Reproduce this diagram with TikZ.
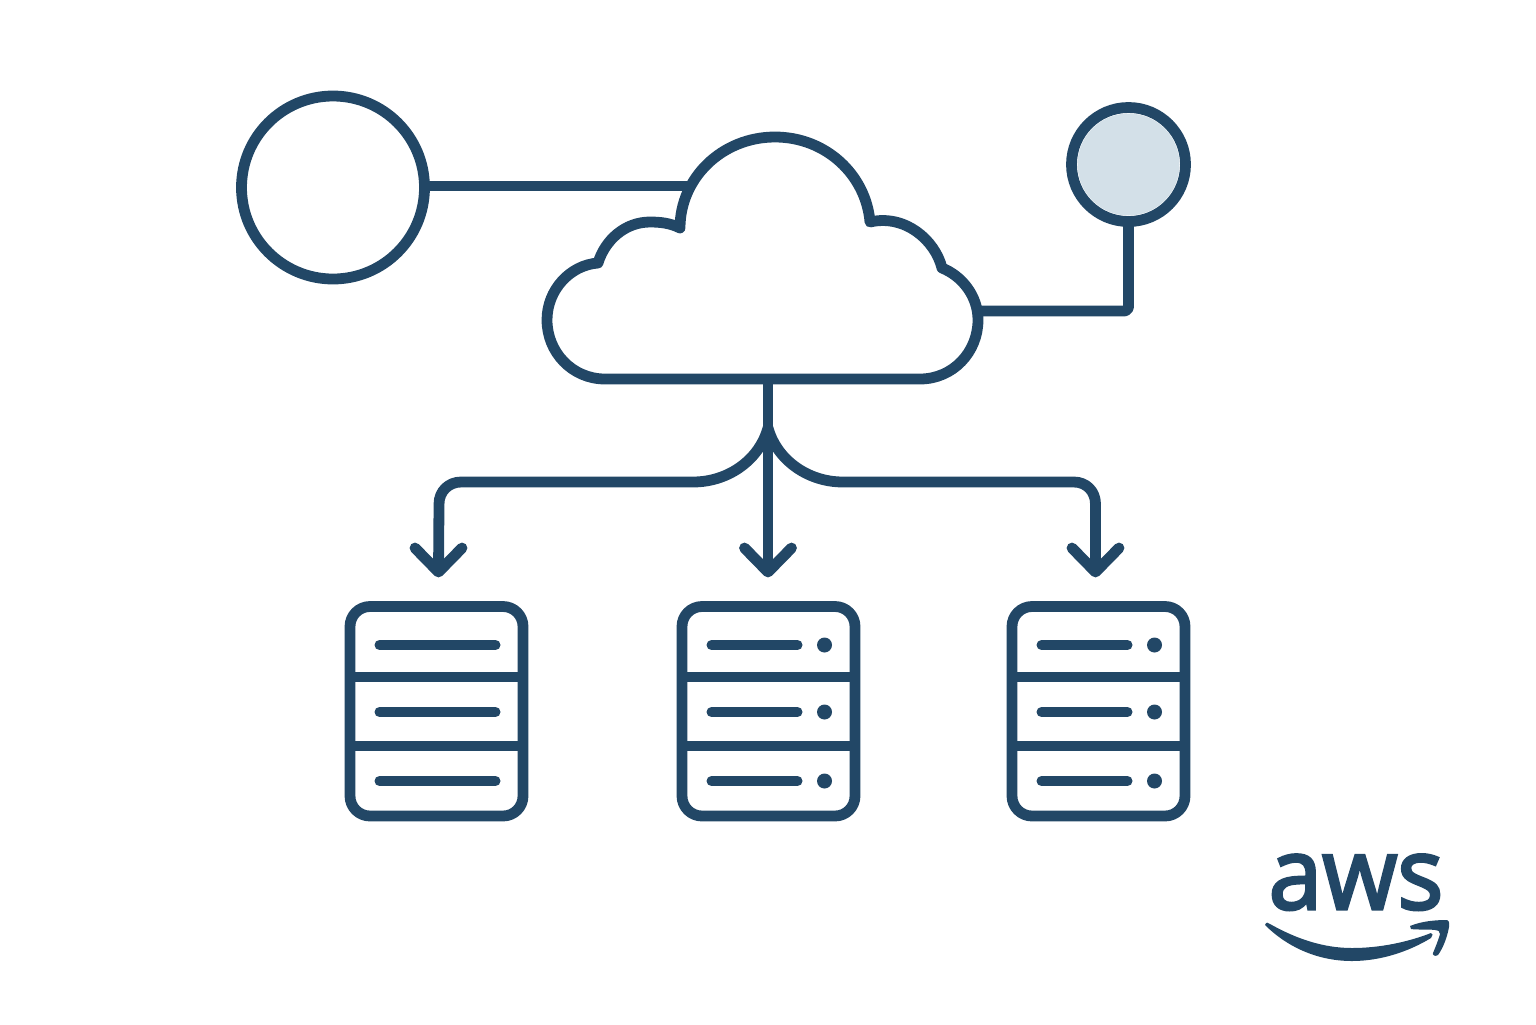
\documentclass[tikz,border=0pt]{standalone}
\usepackage{fontspec}
\setmainfont{Open Sans}
\newfontfamily\logofont[FakeBold=3]{Open Sans}
\definecolor{navy}{HTML}{224766}
\definecolor{pale}{HTML}{D3E0E8}
\tikzset{
  x=0.5pt,y=-0.5pt,
  ln/.style={draw=navy,line width=5.4pt},
  conn/.style={ln,line join=round},
  ring/.style={circle,ln,inner sep=0pt,outer sep=0pt},
  head/.style={ln,line cap=round,line join=round},
  bar/.style={draw=navy,line width=5pt,line cap=round},
  dot/.style={circle,fill=navy,inner sep=0pt,minimum size=7.5pt},
  chassis/.style={ln,rounded corners=10pt},
}
\newcommand{\serverbox}[3]{%
  \begin{scope}[shift={(#1,0)}]
    \draw[chassis] (-86.5,606.5) rectangle (86.5,816);
    \draw[ln] (-86.5,677) -- (86.5,677);
    \draw[ln] (-86.5,746) -- (86.5,746);
    \draw[bar] (-57,645) -- (#2,645);
    \draw[bar] (-57,712) -- (#2,712);
    \draw[bar] (-57,781) -- (#2,781);
    #3
  \end{scope}}
\newcommand{\serverdots}{%
    \node[dot] at (56,645) {};
    \node[dot] at (56,712) {};
    \node[dot] at (56,781) {};}
\begin{document}
\begin{tikzpicture}
\useasboundingbox (0,0) rectangle (1536,1024);
% circles
\node[ring,minimum size=91.5pt] (client) at (333,187.5) {};
\node[ring,fill=white,minimum size=57pt] (gateway) at (1128.5,164.5) {};
\node[circle,fill=pale,inner sep=0pt,minimum size=51pt] (core) at (gateway) {};
% coordinates on the cloud
\coordinate (cloudL) at (690,186);
\coordinate (cloudR) at (978,311);
\coordinate (cloudB) at (768,379);
\coordinate (corner) at (1128.5,311);
% connectors behind cloud
\draw[conn] (client.east |- cloudL) -- (cloudL);
\draw[conn,rounded corners=2pt] (cloudR) -- (corner) -- (gateway.south);
% cloud
\path[ln,fill=white,line join=round]
  (605,379) -- (920,379)
  .. controls (953,379) and (978,352) .. (978,320)
  .. controls (978,296) and (962,276) .. (942,268)
  .. controls (935,240) and (905,214) .. (870,222)
  .. controls (866,175) and (826,137) .. (775,137)
  .. controls (722,137) and (680,178) .. (680,228)
  .. controls (670,223) and (660,222) .. (650,222)
  .. controls (625,222) and (605,240) .. (598,263)
  .. controls (570,265) and (547,290) .. (547,320)
  .. controls (547,352) and (572,379) .. (605,379) -- cycle;
% trunk and branches
\coordinate (fork) at (768,428);
\coordinate (tipA) at (438.5,572);
\coordinate (tipB) at (768,572);
\coordinate (tipC) at (1095.5,572);
\draw[conn] (cloudB) -- (tipB);
\draw[conn] (fork) .. controls (760,458) and (730,482) .. (693,482) -- (461,482)
  .. controls (449,482) and (439,491) .. (439,504) -- (tipA);
\draw[conn] (fork) .. controls (776,458) and (806,482) .. (843,482) -- (1074,482)
  .. controls (1086,482) and (1095.5,491) .. (1095.5,504) -- (tipC);
% arrow heads
\draw[head] (415,548) -- (tipA) -- (462,548);
\draw[head] (744.5,548) -- (tipB) -- (791.5,548);
\draw[head] (1072,548) -- (tipC) -- (1119,548);
% servers
\serverbox{436.5}{59}{}
\serverbox{768.5}{29}{\serverdots}
\serverbox{1098.5}{29}{\serverdots}
% logo
\node[text=navy,font=\logofont\fontsize{50}{50}\selectfont,inner sep=0pt,anchor=base,xscale=0.965] (awstext) at (1356,909) {aws};
\fill[navy]
  (1265,925) .. controls (1266,922) and (1268,922) .. (1270,924)
  .. controls (1295,938) and (1322,948) .. (1352,948)
  .. controls (1380,948) and (1408,942) .. (1431,933)
  .. controls (1433,933) and (1433,936) .. (1431,938)
  .. controls (1408,952) and (1380,961) .. (1352,961)
  .. controls (1315,961) and (1285,945) .. (1265,925) -- cycle;
\fill[navy]
  (1410,926) .. controls (1422,921) and (1436,920) .. (1447,920)
  .. controls (1450,921) and (1449,925) .. (1449,927)
  .. controls (1447,938) and (1443,948) .. (1438,955)
  .. controls (1435,957) and (1432,955) .. (1433,953)
  .. controls (1436,946) and (1439,938) .. (1440,934)
  .. controls (1440,931) and (1438,930) .. (1435,930)
  .. controls (1427,929) and (1418,930) .. (1411,929) -- cycle;
\end{tikzpicture}
\end{document}
